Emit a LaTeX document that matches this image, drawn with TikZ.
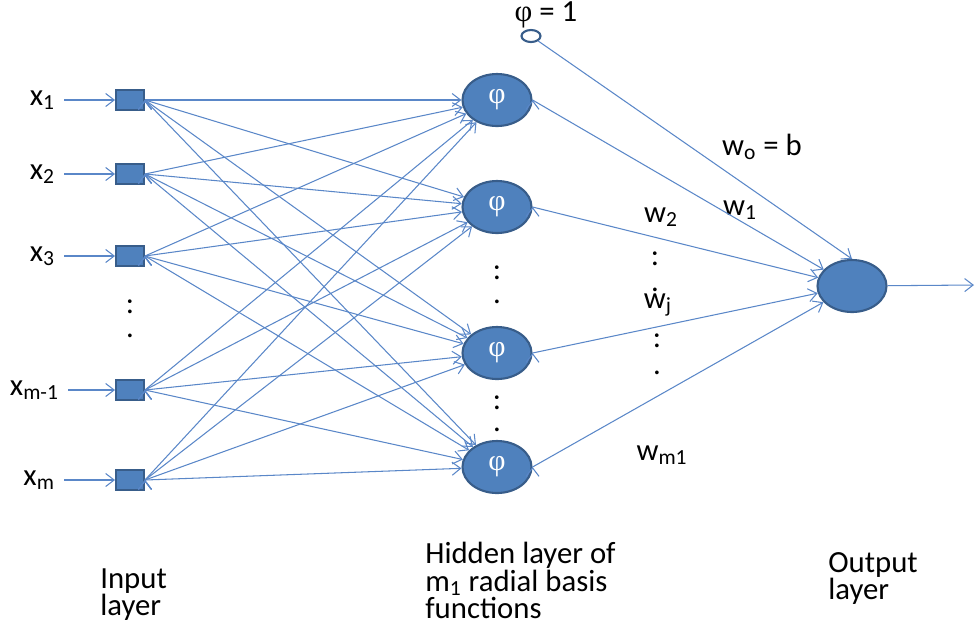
\documentclass[tikz,border=0pt]{standalone}
\usepackage{fontspec}
\setmainfont{Carlito}
\newfontfamily\phifont{Liberation Serif}
\usetikzlibrary{arrows.meta,shapes.geometric}

\definecolor{nodeblue}{RGB}{79,129,189}
\definecolor{rimblue}{RGB}{56,93,138}
\definecolor{wireblue}{RGB}{90,135,200}

\begin{document}
\begin{tikzpicture}[x=0.2mm, y=-0.2mm, font=\fontsize{17.5}{15.6}\selectfont,
                    inbox/.style={rectangle, draw=rimblue, fill=nodeblue, line width=1.1pt, minimum width=5.6mm, minimum height=4.1mm, inner sep=0pt},
                    rbf/.style={ellipse, draw=rimblue, fill=nodeblue, line width=1.2pt, minimum width=13.8mm, minimum height=10.4mm, inner sep=0pt, text=white, font=\phifont\fontsize{17}{17}\selectfont},
                    bias/.style={ellipse, draw=rimblue, fill=white, line width=1.2pt, minimum width=3.8mm, minimum height=2.4mm, inner sep=0pt},
                    lbl/.style={inner sep=0pt},
                    xlbl/.style={anchor=east, inner xsep=5pt, inner ysep=0pt},
                    wire/.style={draw=wireblue, line width=0.6pt, -{Straight Barb[length=1.7mm,width=2.6mm]}}]
                    \useasboundingbox (0,0) rectangle (975,625);
                    % input layer
                    \node[inbox] (i1) at (130, 100) {};
                    \node[inbox] (i2) at (130, 174) {};
                    \node[inbox] (i3) at (130, 256) {};
                    \node[inbox] (i4) at (130, 390) {};
                    \node[inbox] (i5) at (130, 480) {};
                    \node[xlbl] (x1) at (64, 100) {x\textsubscript{1}};
                    \node[xlbl] (x2) at (64, 174) {x\textsubscript{2}};
                    \node[xlbl] (x3) at (64, 256) {x\textsubscript{3}};
                    \node[xlbl] (x4) at (68, 390) {x\textsubscript{m-1}};
                    \node[xlbl] (x5) at (64, 480) {x\textsubscript{m}};
                    \node[lbl] (idots1) at (130, 307) {:};
                    \node[lbl] (idots2) at (130, 336) {.};
                    % hidden layer
                    \node[rbf] (h1) at (497, 100) {φ};
                    \node[rbf] (h2) at (497, 207) {φ};
                    \node[rbf] (h3) at (497, 353) {φ};
                    \node[rbf] (h4) at (497, 467) {φ};
                    \node[lbl] (hdots1) at (497, 273) {:};
                    \node[lbl] (hdots2) at (497, 302) {.};
                    \node[lbl] (hdots3) at (497, 403) {:};
                    \node[lbl] (hdots4) at (497, 430) {.};
                    \node[bias] (b) at (531, 36) {};
                    \node[lbl] (bl) at (546, 15) {{\phifont φ} = 1};
                    % output layer
                    \node[rbf] (o) at (852, 286) {};
                    \coordinate (out) at (974, 285);
                    % weights
                    \node[lbl] (w0) at (762, 147) {w\textsubscript{o} = b};
                    \node[lbl] (w1) at (740, 210) {w\textsubscript{1}};
                    \node[lbl] (w2) at (661, 217) {w\textsubscript{2}};
                    \node[lbl] (wdots1) at (655, 259) {:};
                    \node[lbl] (wdots2) at (655, 290) {.};
                    \node[lbl] (wj) at (658, 305) {w\textsubscript{j}};
                    \node[lbl] (wdots3) at (657, 341) {:};
                    \node[lbl] (wdots4) at (657, 373) {.};
                    \node[lbl] (wm) at (662, 455) {w\textsubscript{m1}};
                    % inputs
                    \draw[wire] (x1) edge (i1);
                    \draw[wire] (x2) edge (i2);
                    \draw[wire] (x3) edge (i3);
                    \draw[wire] (x4) edge (i4);
                    \draw[wire] (x5) edge (i5);
                    % input to hidden
                    \draw[wire] (i1.east) edge (h1);
                    \draw[wire] (i1.east) edge (h2);
                    \draw[wire] (i1.east) edge (h3);
                    \draw[wire] (i1.east) edge (h4);
                    \draw[wire] (i2.east) edge (h1);
                    \draw[wire] (i2.east) edge (h2);
                    \draw[wire] (i2.east) edge (h3);
                    \draw[wire] (i2.east) edge (h4);
                    \draw[wire] (i3.east) edge (h1);
                    \draw[wire] (i3.east) edge (h2);
                    \draw[wire] (i3.east) edge (h3);
                    \draw[wire] (i3.east) edge (h4);
                    \draw[wire] (i4.east) edge (h1);
                    \draw[wire] (i4.east) edge (h2);
                    \draw[wire] (i4.east) edge (h3);
                    \draw[wire] (i4.east) edge (h4);
                    \draw[wire] (i5.east) edge (h1);
                    \draw[wire] (i5.east) edge (h2);
                    \draw[wire] (i5.east) edge (h3);
                    \draw[wire] (i5.east) edge (h4);
                    % hidden to output
                    \draw[wire] (b) edge (o.north);
                    \draw[wire] (h1.east) edge (o);
                    \draw[wire] (h2.east) edge (o);
                    \draw[wire] (h3.east) edge (o);
                    \draw[wire] (h4.east) edge (o);
                    \draw[wire] (o) edge (out);
                    % layer names
                    \node[anchor=north west, align=left, inner sep=0pt] (lin) at (100, 568) {Input\\layer};
                    \node[anchor=north west, align=left, inner sep=0pt] (lhid) at (425, 542) {Hidden layer of\\m\textsubscript{1} radial basis\\functions};
                    \node[anchor=north west, align=left, inner sep=0pt] (lout) at (828, 552) {Output\\layer};
                \end{tikzpicture}
\end{document}
